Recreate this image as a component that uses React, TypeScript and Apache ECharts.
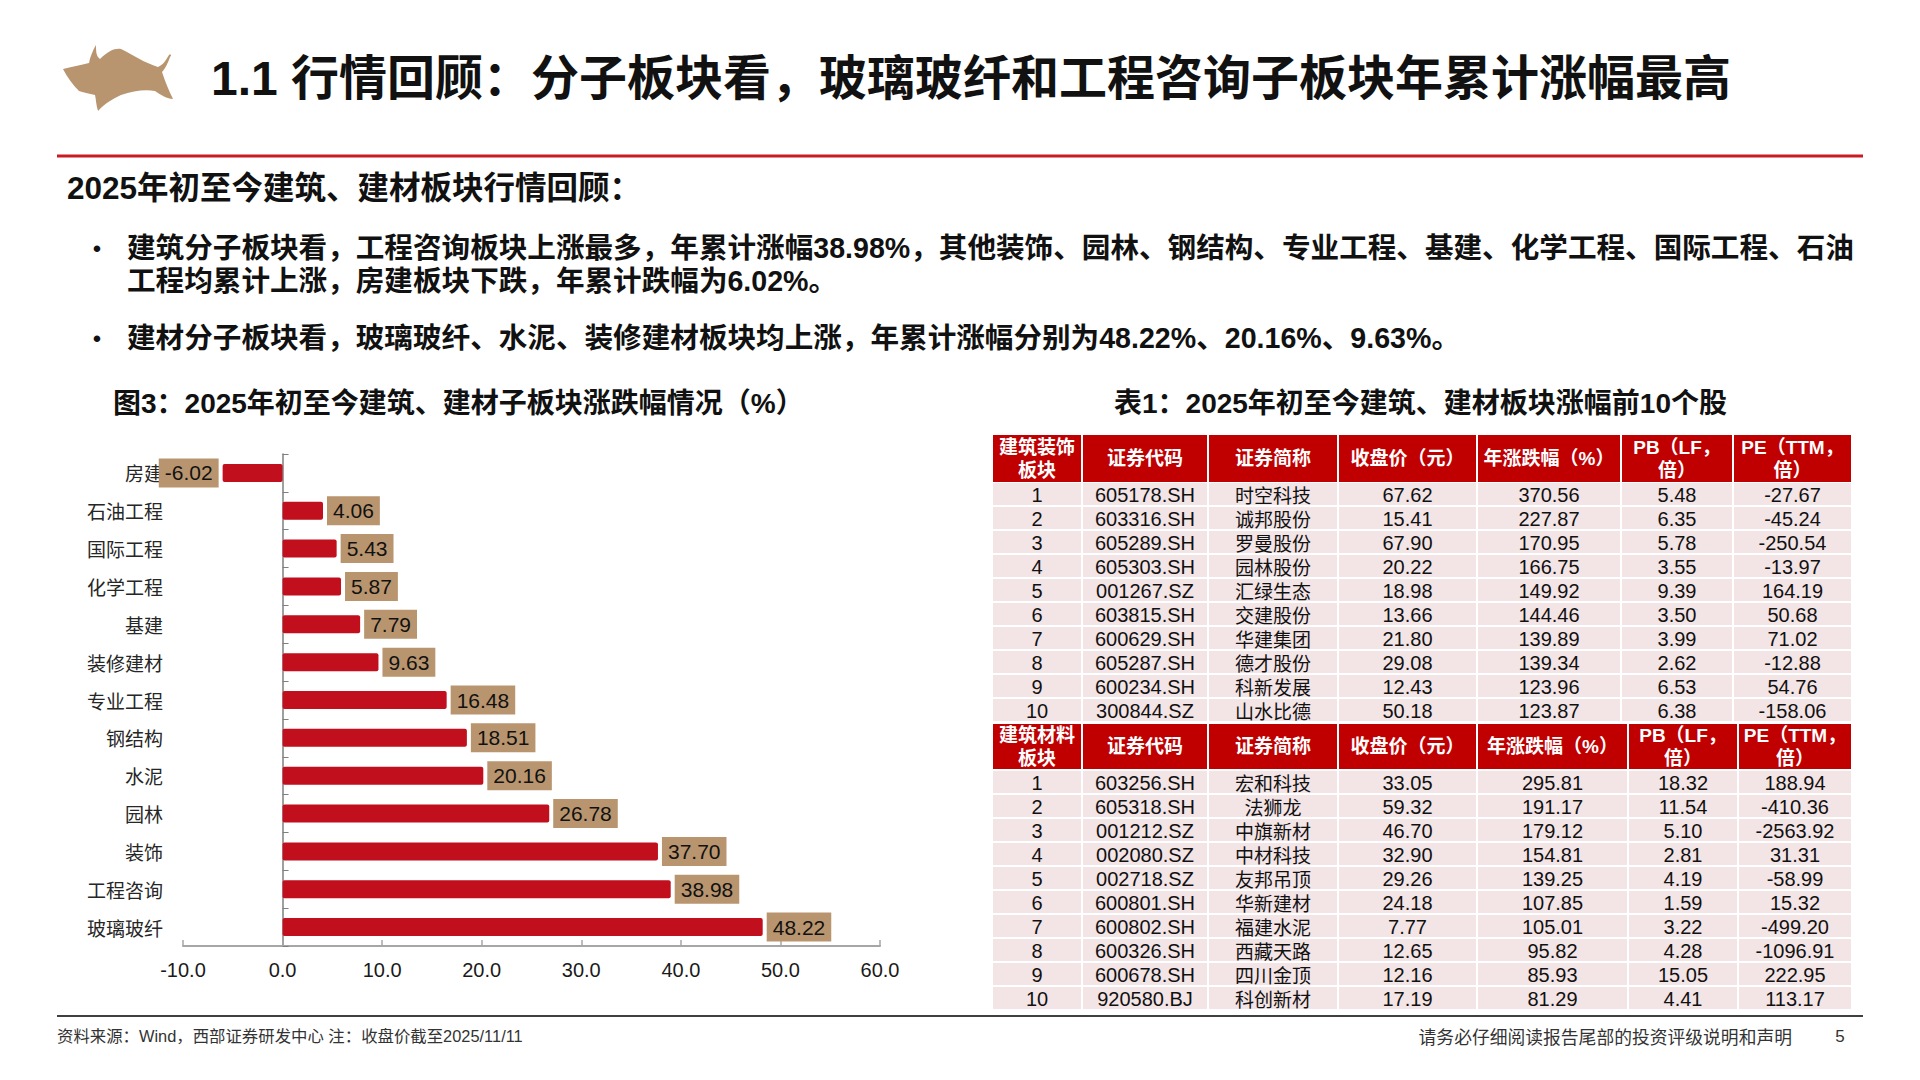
import React, { useEffect, useRef } from "react";
import * as echarts from "echarts";

// ---------- data ----------
const categories = ["房建", "石油工程", "国际工程", "化学工程", "基建", "装修建材", "专业工程", "钢结构", "水泥", "园林", "装饰", "工程咨询", "玻璃玻纤"];
const changes = [-6.02, 4.06, 5.43, 5.87, 7.79, 9.63, 16.48, 18.51, 20.16, 26.78, 37.7, 38.98, 48.22];
const xMin = -10;
const xMax = 60;
const xStep = 10;

const headersA = ["建筑装饰\n板块", "证券代码", "证券简称", "收盘价（元）", "年涨跌幅（%）", "PB（LF，\n倍）", "PE（TTM，\n倍）"];
const ranksA = [1, 2, 3, 4, 5, 6, 7, 8, 9, 10];
const codesA = ["605178.SH", "603316.SH", "605289.SH", "605303.SH", "001267.SZ", "603815.SH", "600629.SH", "605287.SH", "600234.SH", "300844.SZ"];
const namesA = ["时空科技", "诚邦股份", "罗曼股份", "园林股份", "汇绿生态", "交建股份", "华建集团", "德才股份", "科新发展", "山水比德"];
const closeA = [67.62, 15.41, 67.9, 20.22, 18.98, 13.66, 21.8, 29.08, 12.43, 50.18];
const chgA = [370.56, 227.87, 170.95, 166.75, 149.92, 144.46, 139.89, 139.34, 123.96, 123.87];
const pbA = [5.48, 6.35, 5.78, 3.55, 9.39, 3.5, 3.99, 2.62, 6.53, 6.38];
const peA = [-27.67, -45.24, -250.54, -13.97, 164.19, 50.68, 71.02, -12.88, 54.76, -158.06];

const headersB = ["建筑材料\n板块", "证券代码", "证券简称", "收盘价（元）", "年涨跌幅（%）", "PB（LF，\n倍）", "PE（TTM，\n倍）"];
const ranksB = [1, 2, 3, 4, 5, 6, 7, 8, 9, 10];
const codesB = ["603256.SH", "605318.SH", "001212.SZ", "002080.SZ", "002718.SZ", "600801.SH", "600802.SH", "600326.SH", "600678.SH", "920580.BJ"];
const namesB = ["宏和科技", "法狮龙", "中旗新材", "中材科技", "友邦吊顶", "华新建材", "福建水泥", "西藏天路", "四川金顶", "科创新材"];
const closeB = [33.05, 59.32, 46.7, 32.9, 29.26, 24.18, 7.77, 12.65, 12.16, 17.19];
const chgB = [295.81, 191.17, 179.12, 154.81, 139.25, 107.85, 105.01, 95.82, 85.93, 81.29];
const pbB = [18.32, 11.54, 5.1, 2.81, 4.19, 1.59, 3.22, 4.28, 15.05, 4.41];
const peB = [188.94, -410.36, -2563.92, 31.31, -58.99, 15.32, -499.2, -1096.91, 222.95, 113.17];

const titleText = "1.1 行情回顾：分子板块看，玻璃玻纤和工程咨询子板块年累计涨幅最高";
const headingText = "2025年初至今建筑、建材板块行情回顾：";
const bulletLines = [
  "建筑分子板块看，工程咨询板块上涨最多，年累计涨幅38.98%，其他装饰、园林、钢结构、专业工程、基建、化学工程、国际工程、石油",
  "工程均累计上涨，房建板块下跌，年累计跌幅为6.02%。",
  "建材分子板块看，玻璃玻纤、水泥、装修建材板块均上涨，年累计涨幅分别为48.22%、20.16%、9.63%。",
];
const figTitle = "图3：2025年初至今建筑、建材子板块涨跌幅情况（%）";
const tableTitle = "表1：2025年初至今建筑、建材板块涨幅前10个股";
const footLeft = "资料来源：Wind，西部证券研发中心 注：收盘价截至2025/11/11";
const footRight = "请务必仔细阅读报告尾部的投资评级说明和声明";
const pageNo = "5";

// ---------- styles ----------
const RED = "#C00000";
const BAR = "#C10F1E";
const TAN = "#B9956F";
const PINK = "#F3E4E6";
const LATIN_CJK = "'Liberation Sans', 'Noto Sans CJK SC'";
const CJK = "'Noto Sans CJK SC'";

const BULL_D =
  "M0 24 C8 22 18 20 26 18 C27 12 30 5 33 0 C33 6 33 11 37 14 C45 6 52 3 58 4 C70 10 82 18 95 22 C100 20 103 15 106 10 C108 9 109 10 107 12 C105 18 102 24 99 27 C102 36 106 46 110 54 C104 54 98 50 92 46 C82 44 70 46 58 50 C50 54 42 58 35 66 C33 60 33 54 32 50 C26 49 20 47 16 46 C10 40 4 32 0 24 Z";

let bullRegistered = false;

function buildTable(
  top: number,
  headerH: number,
  rowTop: number,
  edges: number[],
  headers: string[],
  cols: (string | number)[][],
) {
  const rects: any[] = [];
  const texts: any[] = [];
  const nRows = cols[0].length;
  for (let j = 0; j < headers.length; j++) {
    const x0 = edges[j] + 1;
    const w = edges[j + 1] - edges[j] - 2;
    rects.push({ type: "rect", shape: { x: x0, y: top, width: w, height: headerH }, style: { fill: RED } });
    texts.push({
      type: "text",
      x: x0 + w / 2,
      y: top + headerH / 2,
      style: {
        text: headers[j],
        fill: "#ffffff",
        fontSize: 19,
        fontWeight: "bold",
        fontFamily: LATIN_CJK,
        lineHeight: 23,
        textAlign: "center",
        textVerticalAlign: "middle",
      },
    });
    for (let i = 0; i < nRows; i++) {
      const y0 = rowTop + i * 24;
      rects.push({ type: "rect", shape: { x: x0, y: y0, width: w, height: 22 }, style: { fill: PINK } });
      const v = cols[j][i];
      const txt = typeof v === "number" && j >= 3 ? v.toFixed(2) : String(v);
      const isName = j === 2;
      texts.push({
        type: "text",
        x: x0 + w / 2,
        y: y0 + 11.5,
        style: {
          text: txt,
          fill: "#111111",
          fontSize: isName ? 19 : 20,
          fontFamily: isName ? CJK : LATIN_CJK,
          textAlign: "center",
          textVerticalAlign: "middle",
        },
      });
    }
  }
  return rects.concat(texts);
}

export default function App() {
  const ref = useRef<HTMLDivElement>(null);
  useEffect(() => {
    if (!ref.current) return;
    if (!bullRegistered) {
      echarts.graphic.registerShape("bull", echarts.graphic.extendPath(BULL_D, {}));
      bullRegistered = true;
    }
    const chart = echarts.init(ref.current, undefined, { renderer: "svg" });

    const tableA = buildTable(435, 47, 483, [992, 1082, 1208, 1338, 1477, 1621, 1733, 1852], headersA, [
      ranksA, codesA, namesA, closeA, chgA, pbA, peA,
    ]);
    const tableB = buildTable(724, 45, 771, [992, 1082, 1208, 1338, 1477, 1628, 1738, 1852], headersB, [
      ranksB, codesB, namesB, closeB, chgB, pbB, peB,
    ]);

    const bodyStyle = { fontSize: 28.6, fontWeight: "bold", fontFamily: LATIN_CJK, fill: "#111", textVerticalAlign: "middle" };

    const textEls: any[] = [
      {
        type: "bull",
        x: 63,
        y: 45,
        scaleX: 1,
        scaleY: 1,
        style: { fill: TAN },
      },
      {
        type: "text",
        x: 211,
        y: 78,
        style: { text: titleText, fontSize: 48, fontWeight: "bold", fontFamily: LATIN_CJK, fill: "#111", textVerticalAlign: "middle" },
      },
      { type: "line", shape: { x1: 57, y1: 156, x2: 1863, y2: 156 }, style: { stroke: "#CC1A24", lineWidth: 3 } },
      {
        type: "text",
        x: 67,
        y: 188,
        style: { text: headingText, fontSize: 31.5, fontWeight: "bold", fontFamily: LATIN_CJK, fill: "#111", textVerticalAlign: "middle" },
      },
      { type: "text", x: 97, y: 248, style: { text: "•", fontSize: 24, fontFamily: LATIN_CJK, fill: "#111", textAlign: "center", textVerticalAlign: "middle" } },
      { type: "text", x: 97, y: 338, style: { text: "•", fontSize: 24, fontFamily: LATIN_CJK, fill: "#111", textAlign: "center", textVerticalAlign: "middle" } },
      { type: "text", x: 127, y: 248, style: { text: bulletLines[0], ...bodyStyle } },
      { type: "text", x: 127, y: 281, style: { text: bulletLines[1], ...bodyStyle } },
      { type: "text", x: 127, y: 338, style: { text: bulletLines[2], ...bodyStyle } },
      {
        type: "text",
        x: 113,
        y: 403,
        style: { text: figTitle, fontSize: 28, fontWeight: "bold", fontFamily: LATIN_CJK, fill: "#111", textVerticalAlign: "middle" },
      },
      {
        type: "text",
        x: 1114,
        y: 403,
        style: { text: tableTitle, fontSize: 28, fontWeight: "bold", fontFamily: LATIN_CJK, fill: "#111", textVerticalAlign: "middle" },
      },
      { type: "line", shape: { x1: 57, y1: 1016, x2: 1863, y2: 1016 }, style: { stroke: "#404040", lineWidth: 2 } },
      {
        type: "text",
        x: 57,
        y: 1036,
        style: { text: footLeft, fontSize: 16.4, fontFamily: LATIN_CJK, fill: "#333", textVerticalAlign: "middle" },
      },
      {
        type: "text",
        x: 1792,
        y: 1036,
        style: { text: footRight, fontSize: 17.8, fontFamily: CJK, fill: "#333", textAlign: "right", textVerticalAlign: "middle" },
      },
      {
        type: "text",
        x: 1840,
        y: 1036,
        style: { text: pageNo, fontSize: 17, fontFamily: LATIN_CJK, fill: "#333", textAlign: "center", textVerticalAlign: "middle" },
      },
    ];

    chart.setOption({
      animation: false,
      backgroundColor: "#ffffff",
      grid: { left: 183, top: 454, width: 697, height: 492, containLabel: false },
      xAxis: {
        type: "value",
        min: xMin,
        max: xMax,
        interval: xStep,
        splitLine: { show: false },
        axisLine: { show: true, lineStyle: { color: "#A6A6A6", width: 2 } },
        axisTick: { show: true, inside: true, length: 6, lineStyle: { color: "#A6A6A6", width: 1.5 } },
        axisLabel: {
          formatter: (v: number) => v.toFixed(1),
          fontSize: 20,
          color: "#1a1a1a",
          margin: 14,
          fontFamily: "'Liberation Sans'",
        },
      },
      yAxis: [
        {
          type: "category",
          data: categories,
          inverse: true,
          position: "left",
          axisLine: { show: true, onZero: true, lineStyle: { color: "#7F7F7F", width: 1.5 } },
          axisTick: { show: true, inside: true, length: 6, lineStyle: { color: "#7F7F7F", width: 1 } },
          axisLabel: { show: false },
          splitLine: { show: false },
        },
        {
          type: "category",
          data: categories,
          inverse: true,
          position: "left",
          axisLine: { show: false, onZero: false },
          axisTick: { show: false },
          axisLabel: { show: true, margin: 20, fontSize: 19, color: "#262626", fontFamily: CJK },
          splitLine: { show: false },
        },
      ],
      series: [
        {
          type: "bar",
          yAxisIndex: 0,
          barWidth: 18,
          itemStyle: { color: BAR, borderRadius: 2 },
          data: changes.map((v) => ({ value: v, label: { position: v < 0 ? "left" : "right" } })),
          label: {
            show: true,
            distance: 4,
            formatter: (p: any) => Number(p.value).toFixed(2),
            backgroundColor: TAN,
            padding: [4, 6, 4, 6],
            fontSize: 21,
            lineHeight: 21,
            color: "#111",
            fontFamily: "'Liberation Sans'",
          },
          z: 3,
        },
      ],
      graphic: { elements: [...tableA, ...tableB, ...textEls] },
    });
    return () => chart.dispose();
  }, []);
  return <div ref={ref} style={{ position: "absolute", left: 0, top: 0, width: 1920, height: 1080 }} />;
}
